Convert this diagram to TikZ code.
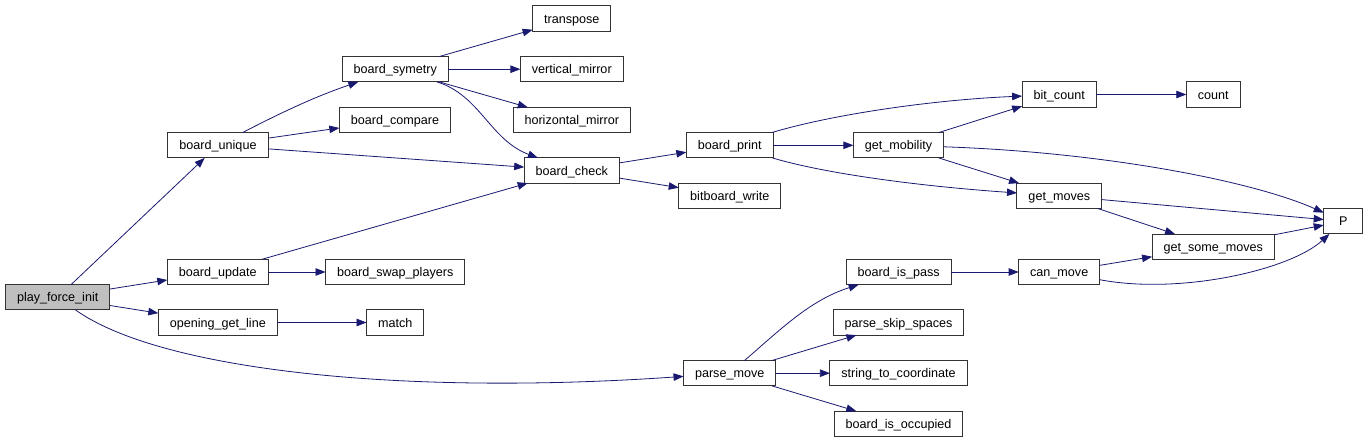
\documentclass[tikz,border=0pt]{standalone}
\usepackage{fontspec}
\setmainfont{Liberation Sans}
\usetikzlibrary{arrows.meta}
\definecolor{callblue}{RGB}{25,25,112}
\definecolor{rootgray}{RGB}{191,191,191}

\begin{document}
\begin{tikzpicture}[x=1pt,y=-1pt,every node/.style={outer sep=0pt},font=\fontsize{12.6}{15}\selectfont,
    fn/.style={draw=black!80,line width=1pt,fill=white,minimum height=25.3pt,minimum width=39pt,inner xsep=11.5pt,inner ysep=0pt,text height=11pt,text depth=1.7pt},
    call/.style={draw=callblue,line width=0.8pt,-{Triangle[length=10pt,width=7.5pt]}}]
        \useasboundingbox (0,0) rectangle (1368,443);
        % 函数节点
        \node[fn,fill=rootgray] (pfi) at (57.7,297.3) {play\_force\_init};
        \foreach \n/\x/\y/\lbl in {
            unique/218/145.3/board\_unique, update/217.7/272/board\_update, getline/217.8/322.5/opening\_get\_line,
            symetry/395.2/69.2/board\_symetry, compare/395/120/board\_compare, swap/395.2/272/board\_swap\_players, match/395.2/322.5/match,
            transpose/571.8/18.5/transpose, vmirror/571.8/69.2/vertical\_mirror, hmirror/571.8/120/horizontal\_mirror, check/571.8/170.5/board\_check,
            print/729.7/145.3/board\_print, bbwrite/729.8/195.8/bitboard\_write, pmove/729.7/373.2/parse\_move,
            mobility/898.5/145.3/get\_mobility, ispass/898.7/272/board\_is\_pass, skip/898.5/322.5/parse\_skip\_spaces,
            coord/898.5/373.2/string\_to\_coordinate, occupied/898.5/423.8/board\_is\_occupied,
            bitcount/1059.2/94.5/bit\_count, getmoves/1059.3/195.8/get\_moves, canmove/1059.2/272/can\_move,
            count/1213.2/94.5/count, somemoves/1213.3/246.7/get\_some\_moves, P/1343.2/221.3/P} {
            \node[fn] (\n) at (\x,\y) {\lbl};
        }
        % 直线调用
        \foreach \a/\b in {pfi/unique, pfi/update, pfi/getline, unique/compare, unique/check,
            symetry/transpose, symetry/vmirror, symetry/hmirror, update/check, update/swap, getline/match,
            check/print, check/bbwrite, print/mobility, mobility/bitcount, mobility/getmoves, bitcount/count,
            getmoves/P, getmoves/somemoves, somemoves/P, ispass/canmove, canmove/somemoves,
            pmove/skip, pmove/coord, pmove/occupied} {
            \draw[call] (\a) -- (\b);
        }
        % 曲线调用
        \draw[call] (pfi) .. controls (160,370) and (400,396) .. (pmove);
        \draw[call] (unique) .. controls (290,108) and (320,95) .. (symetry);
        \draw[call] (symetry) .. controls (480,95) and (490,140) .. (check);
        \draw[call] (print) .. controls (830,115) and (930,100) .. (bitcount);
        \draw[call] (print) .. controls (830,175) and (930,187) .. (getmoves);
        \draw[call] (mobility) .. controls (1100,152) and (1250,180) .. (P);
        \draw[call] (canmove) .. controls (1180,295) and (1290,270) .. (P);
        \draw[call] (pmove) .. controls (780,330) and (810,300) .. (ispass);
\end{tikzpicture}
\end{document}
